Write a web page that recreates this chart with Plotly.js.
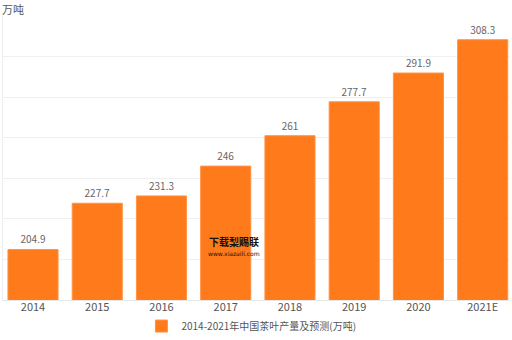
<!DOCTYPE html>
<html>
<head>
<meta charset="utf-8">
<script src="https://cdn.plot.ly/plotly-3.0.1.min.js"></script>
<style>html,body{margin:0;padding:0;background:#fff;}#chart{width:512px;height:340px;}</style>
</head>
<body>
<div id="chart"></div>
<script>
const categories = ["2014","2015","2016","2017","2018","2019","2020","2021E"];
const values = [204.9, 227.7, 231.3, 246, 261, 277.7, 291.9, 308.3];
const labels = ["204.9","227.7","231.3","246","261","277.7","291.9","308.3"];
const seriesName = "2014-2021年中国茶叶产量及预测(万吨)";
const unitLabel = "万吨";

const FONT = '"Noto Sans CJK SC", "Open Sans", sans-serif';

const trace = {
  type: 'bar',
  x: categories,
  y: values,
  name: seriesName,
  text: labels,
  textposition: 'outside',
  cliponaxis: false,
  textfont: {family: FONT, size: 10, color: '#666'},
  marker: {color: '#ff7a1a', line: {color: '#ff9448', width: 1}},
  width: 0.78,
  hoverinfo: 'x+y'
};

const layout = {
  width: 512, height: 340,
  margin: {l: 3, r: 2, t: 16, b: 40, autoexpand: false},
  paper_bgcolor: '#fff',
  plot_bgcolor: '#fff',
  showlegend: true,
  legend: {
    orientation: 'h', x: 0.49, xanchor: 'center', yref: 'container', y: 0.041, yanchor: 'middle',
    bgcolor: 'rgba(0,0,0,0)',
    font: {family: FONT, size: 10, color: '#555'},
    itemwidth: 30
  },
  xaxis: {
    type: 'category',
    range: [-0.467, 7.425],
    showgrid: false,
    showline: true, linecolor: '#e6e6e6', linewidth: 1,
    ticks: '',
    ticklabelstandoff: -3,
    tickfont: {family: FONT, size: 11, color: '#555'},
    zeroline: false
  },
  yaxis: {
    range: [180, 320],
    dtick: 20,
    tick0: 180,
    showgrid: true, gridcolor: '#f0f0f0', gridwidth: 1,
    showline: true, linecolor: '#eeeeee', linewidth: 1,
    showticklabels: false,
    ticks: '',
    zeroline: false
  },
  annotations: [
    {text: unitLabel, xref: 'paper', yref: 'paper', x: 0, y: 1, xanchor: 'left', yanchor: 'bottom', yshift: -3, xshift: -3,
     showarrow: false, font: {family: FONT, size: 11, color: '#555'}},
    {text: '<b>下载梨赐联</b>', xref: 'paper', yref: 'paper', x: 0.455, y: 0.205, xanchor: 'center', yanchor: 'middle',
     showarrow: false, font: {family: FONT, size: 10, color: '#111'}},
    {text: 'www.xiazaili.com', xref: 'paper', yref: 'paper', x: 0.455, y: 0.165, xanchor: 'center', yanchor: 'middle',
     showarrow: false, font: {family: 'DejaVu Sans', size: 6, color: '#111'}}
  ]
};

Plotly.newPlot('chart', [trace], layout, {displayModeBar: false, staticPlot: true});
</script>
</body>
</html>
